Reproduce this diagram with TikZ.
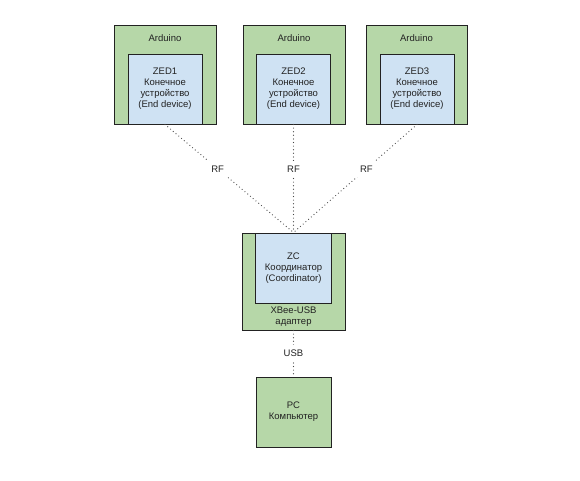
\documentclass[tikz,border=0pt]{standalone}
\usepackage{fontspec}
\setmainfont{Liberation Sans}
\definecolor{gfill}{HTML}{B6D7A8}
\definecolor{bfill}{HTML}{CFE2F3}
\definecolor{edgec}{HTML}{222222}
\definecolor{txt}{HTML}{222222}
\definecolor{linkc}{HTML}{444444}
\begin{document}
\begin{tikzpicture}[x=1pt,y=-1pt,
  every node/.style={font=\fontsize{9.5}{11}\selectfont, text=txt},
  outerbox/.style={draw=edgec, fill=gfill, line width=1pt, inner sep=0pt, minimum width=102pt, minimum height=99pt},
  innerbox/.style={draw=edgec, fill=bfill, line width=1pt, inner sep=0pt, minimum width=74pt, minimum height=70pt, align=center},
  pcbox/.style={draw=edgec, fill=gfill, line width=1pt, inner sep=0pt, minimum width=75pt, minimum height=70pt, align=center},
  plain/.style={inner sep=0pt, align=center},
  link/.style={draw=linkc, line width=1.2pt, line cap=round, dash pattern=on 0pt off 3.6pt},
  lbl/.style={fill=white, inner xsep=4pt, inner ysep=5pt}
]
\useasboundingbox (0,0) rectangle (580,480);
\fill[white] (0,0) rectangle (580,480);

% top devices
\node[outerbox] (a1) at (165,74.5) {};
\node[innerbox] (z1) at (165,89) {ZED1\\Конечное\\устройство\\(End device)};
\node[plain] (t1) at (165,38.5) {Arduino};

\node[outerbox] (a2) at (294,74.5) {};
\node[innerbox] (z2) at (293.5,89) {ZED2\\Конечное\\устройство\\(End device)};
\node[plain] (t2) at (294,38.5) {Arduino};

\node[outerbox, minimum width=101pt] (a3) at (416.5,74.5) {};
\node[innerbox] (z3) at (417,89) {ZED3\\Конечное\\устройство\\(End device)};
\node[plain] (t3) at (416.5,38.5) {Arduino};

% coordinator
\node[outerbox, minimum width=103pt, minimum height=97pt] (xb) at (293.5,281.5) {};
\node[innerbox, minimum width=76pt] (zc) at (293.5,268) {ZC\\Координатор\\(Coordinator)};
\node[plain] (xt) at (293.5,317) {XBee-USB\\адаптер};

% PC
\node[pcbox] (pc) at (293.5,412) {PC\\Компьютер};

% links
\draw[link] (z1.south) -- node[lbl, pos=0.41] {RF} (zc.north);
\draw[link] (z2.south) -- node[lbl, pos=0.41] {RF} (zc.north);
\draw[link] (z3.south) -- node[lbl, pos=0.41] {RF} (zc.north);
\draw[link] (xb.south) -- node[lbl] {USB} (pc.north);
\end{tikzpicture}
\end{document}
